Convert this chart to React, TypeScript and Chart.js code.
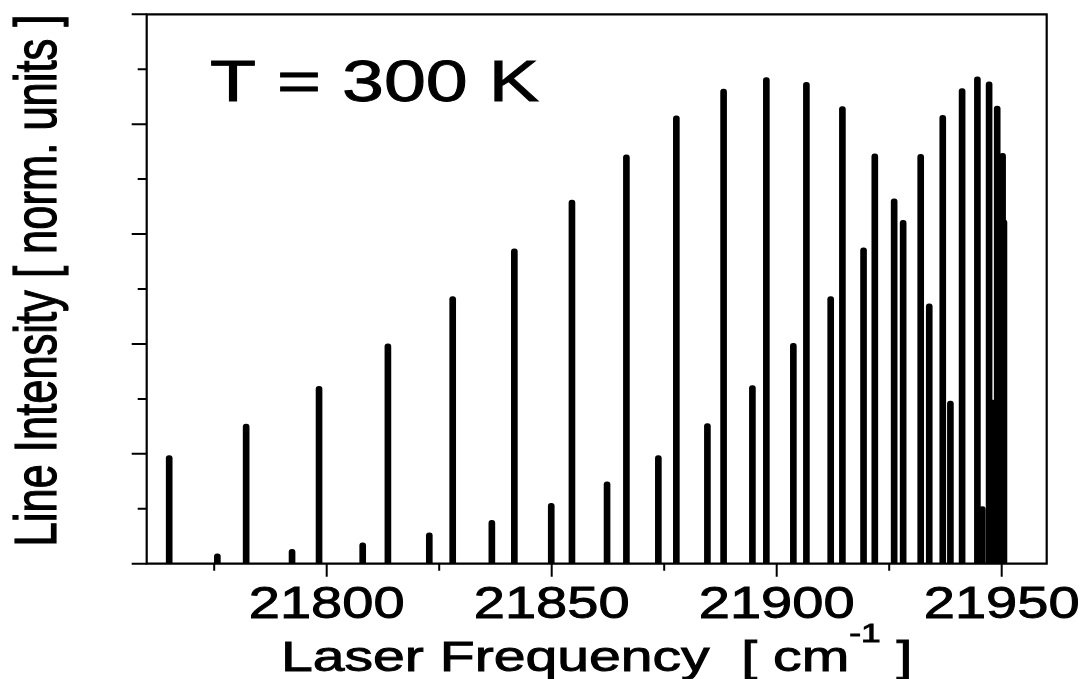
import React, { useEffect, useRef } from "react";
import { Chart, registerables } from "chart.js";

Chart.register(...registerables);

// Strong branch: line positions [cm^-1] and normalized intensities
const STRONG_FREQ = [21765.0, 21782.1, 21798.3, 21813.6, 21828.0, 21841.7, 21854.5, 21866.6, 21877.7, 21888.2, 21897.7, 21906.6, 21914.6, 21921.8, 21928.1, 21933.9, 21938.6, 21945.7, 21948.1];
const STRONG_INT = [0.197, 0.254, 0.323, 0.4, 0.486, 0.573, 0.662, 0.744, 0.815, 0.864, 0.885, 0.876, 0.832, 0.746, 0.625, 0.473, 0.296, 0.104, 0.298];

// Weak branch
const WEAK_FREQ = [21775.7, 21792.3, 21808.0, 21822.8, 21836.7, 21849.9, 21862.3, 21873.7, 21884.6, 21894.6, 21903.7, 21912.0, 21919.3, 21926.1, 21932.0, 21936.9, 21941.2, 21944.6, 21947.2, 21949.0, 21950.2, 21950.5];
const WEAK_INT = [0.018, 0.026, 0.038, 0.056, 0.079, 0.11, 0.149, 0.197, 0.255, 0.324, 0.401, 0.486, 0.575, 0.664, 0.745, 0.816, 0.865, 0.886, 0.877, 0.833, 0.747, 0.626];

// Axis ticks
const X_MIN = 21760;
const X_MAX = 21960;
const X_MAJOR = [21800, 21850, 21900, 21950];
const X_MINOR = [21775, 21825, 21875, 21925];
const Y_MAJOR = [0, 0.2, 0.4, 0.6, 0.8, 1.0];
const Y_MINOR = [0.1, 0.3, 0.5, 0.7, 0.9];

const ANNOTATION = "T = 300 K";
const X_TITLE_MAIN = "Laser Frequency  [ cm";
const X_TITLE_SUP = "-1";
const X_TITLE_END = " ]";
const Y_TITLE = "Line Intensity [ norm. units ]";

const FONT = '"Liberation Sans", Arial, Helvetica, sans-serif';

function drawStretched(ctx: CanvasRenderingContext2D, text: string, x: number, y: number, align: CanvasTextAlign, stretch: number) {
  ctx.save();
  ctx.translate(x, y);
  ctx.scale(stretch, 1);
  ctx.textAlign = align;
  ctx.textBaseline = "alphabetic";
  ctx.fillText(text, 0, 0);
  ctx.lineWidth = 0.9;
  ctx.strokeText(text, 0, 0);
  ctx.restore();
}

const decorPlugin = {
  id: "decor",
  afterDraw(chart: any) {
    const ctx: CanvasRenderingContext2D = chart.ctx;
    const a = chart.chartArea;
    const xs = chart.scales.x;
    const ys = chart.scales.y;
    ctx.save();
    ctx.strokeStyle = "#000";
    ctx.fillStyle = "#000";
    ctx.lineWidth = 2.2;
    ctx.lineCap = "butt";
    ctx.lineJoin = "miter";

    // frame
    ctx.beginPath();
    ctx.rect(a.left, a.top, a.right - a.left, a.bottom - a.top);
    ctx.stroke();

    // y ticks (outward, left)
    ctx.lineWidth = 2;
    ctx.beginPath();
    Y_MAJOR.forEach((v) => {
      const p = ys.getPixelForValue(v);
      ctx.moveTo(a.left - 15, p);
      ctx.lineTo(a.left, p);
    });
    Y_MINOR.forEach((v) => {
      const p = ys.getPixelForValue(v);
      ctx.moveTo(a.left - 9, p);
      ctx.lineTo(a.left, p);
    });
    // x ticks (outward, down)
    X_MAJOR.forEach((v) => {
      const p = xs.getPixelForValue(v);
      ctx.moveTo(p, a.bottom);
      ctx.lineTo(p, a.bottom + 13);
    });
    X_MINOR.forEach((v) => {
      const p = xs.getPixelForValue(v);
      ctx.moveTo(p, a.bottom);
      ctx.lineTo(p, a.bottom + 7);
    });
    ctx.stroke();

    // tick labels
    ctx.font = `44.5px ${FONT}`;
    X_MAJOR.forEach((v) => {
      drawStretched(ctx, String(v), xs.getPixelForValue(v), a.bottom + 54, "center", 1.26);
    });

    // x title with superscript
    const titleStretch = 1.36;
    const mainFont = `42px ${FONT}`;
    const supFont = `26px ${FONT}`;
    ctx.font = mainFont;
    const w1 = ctx.measureText(X_TITLE_MAIN).width;
    const w3 = ctx.measureText(X_TITLE_END).width;
    ctx.font = supFont;
    const w2 = ctx.measureText(X_TITLE_SUP).width;
    const total = (w1 + w2 + w3) * titleStretch;
    const cx = (a.left + a.right) / 2;
    let x0 = cx - total / 2;
    const base = a.bottom + 107.5;
    ctx.font = mainFont;
    drawStretched(ctx, X_TITLE_MAIN, x0, base, "left", titleStretch);
    x0 += w1 * titleStretch;
    ctx.font = supFont;
    drawStretched(ctx, X_TITLE_SUP, x0, base - 29, "left", titleStretch);
    x0 += w2 * titleStretch;
    ctx.font = mainFont;
    drawStretched(ctx, X_TITLE_END, x0, base, "left", titleStretch);

    // y title (rotated, stretched across its baseline)
    ctx.save();
    ctx.font = `43.5px ${FONT}`;
    ctx.translate(55.5, (a.top + a.bottom) / 2 - 8.5);
    ctx.rotate(-Math.PI / 2);
    ctx.scale(1, 1.35);
    ctx.textAlign = "center";
    ctx.textBaseline = "alphabetic";
    ctx.fillText(Y_TITLE, 0, 0);
    ctx.lineWidth = 0.9;
    ctx.strokeText(Y_TITLE, 0, 0);
    ctx.restore();

    // annotation
    ctx.font = `58px ${FONT}`;
    drawStretched(ctx, ANNOTATION, 210, 101, "left", 1.3);

    ctx.restore();
  },
};

export default function App() {
  const canvasRef = useRef<HTMLCanvasElement | null>(null);

  useEffect(() => {
    const canvas = canvasRef.current;
    if (!canvas) return;
    const strong = STRONG_FREQ.map((f, i) => ({ x: f, y: STRONG_INT[i] }));
    const weak = WEAK_FREQ.map((f, i) => ({ x: f, y: WEAK_INT[i] }));
    const barStyle = {
      backgroundColor: "#000",
      borderWidth: 0,
      barThickness: 6,
      borderRadius: 3,
      borderSkipped: "start" as const,
      grouped: false,
    };
    const chart = new Chart(canvas, {
      type: "bar",
      data: {
        datasets: [
          { label: "strong", data: strong, ...barStyle },
          { label: "weak", data: weak, ...barStyle },
        ],
      },
      options: {
        responsive: false,
        animation: false,
        devicePixelRatio: 1,
        layout: { padding: { top: 14.3, right: 37.3, left: 0, bottom: 0 } },
        plugins: {
          legend: { display: false },
          tooltip: { enabled: false },
        },
        events: [],
        scales: {
          x: {
            type: "linear",
            min: X_MIN,
            max: X_MAX,
            offset: false,
            grid: { display: false },
            border: { display: false },
            ticks: { display: false },
            afterFit: (s: any) => {
              s.height = 115.3;
            },
          },
          y: {
            type: "linear",
            min: 0,
            max: 1,
            grid: { display: false },
            border: { display: false },
            ticks: { display: false },
            afterFit: (s: any) => {
              s.width = 146.7;
            },
          },
        },
      },
      plugins: [decorPlugin],
    });
    return () => chart.destroy();
  }, []);

  return (
    <div style={{ position: "fixed", left: 0, top: 0, width: 1084, height: 679, background: "#fff" }}>
      <canvas ref={canvasRef} width={1084} height={679} style={{ display: "block" }} />
    </div>
  );
}
